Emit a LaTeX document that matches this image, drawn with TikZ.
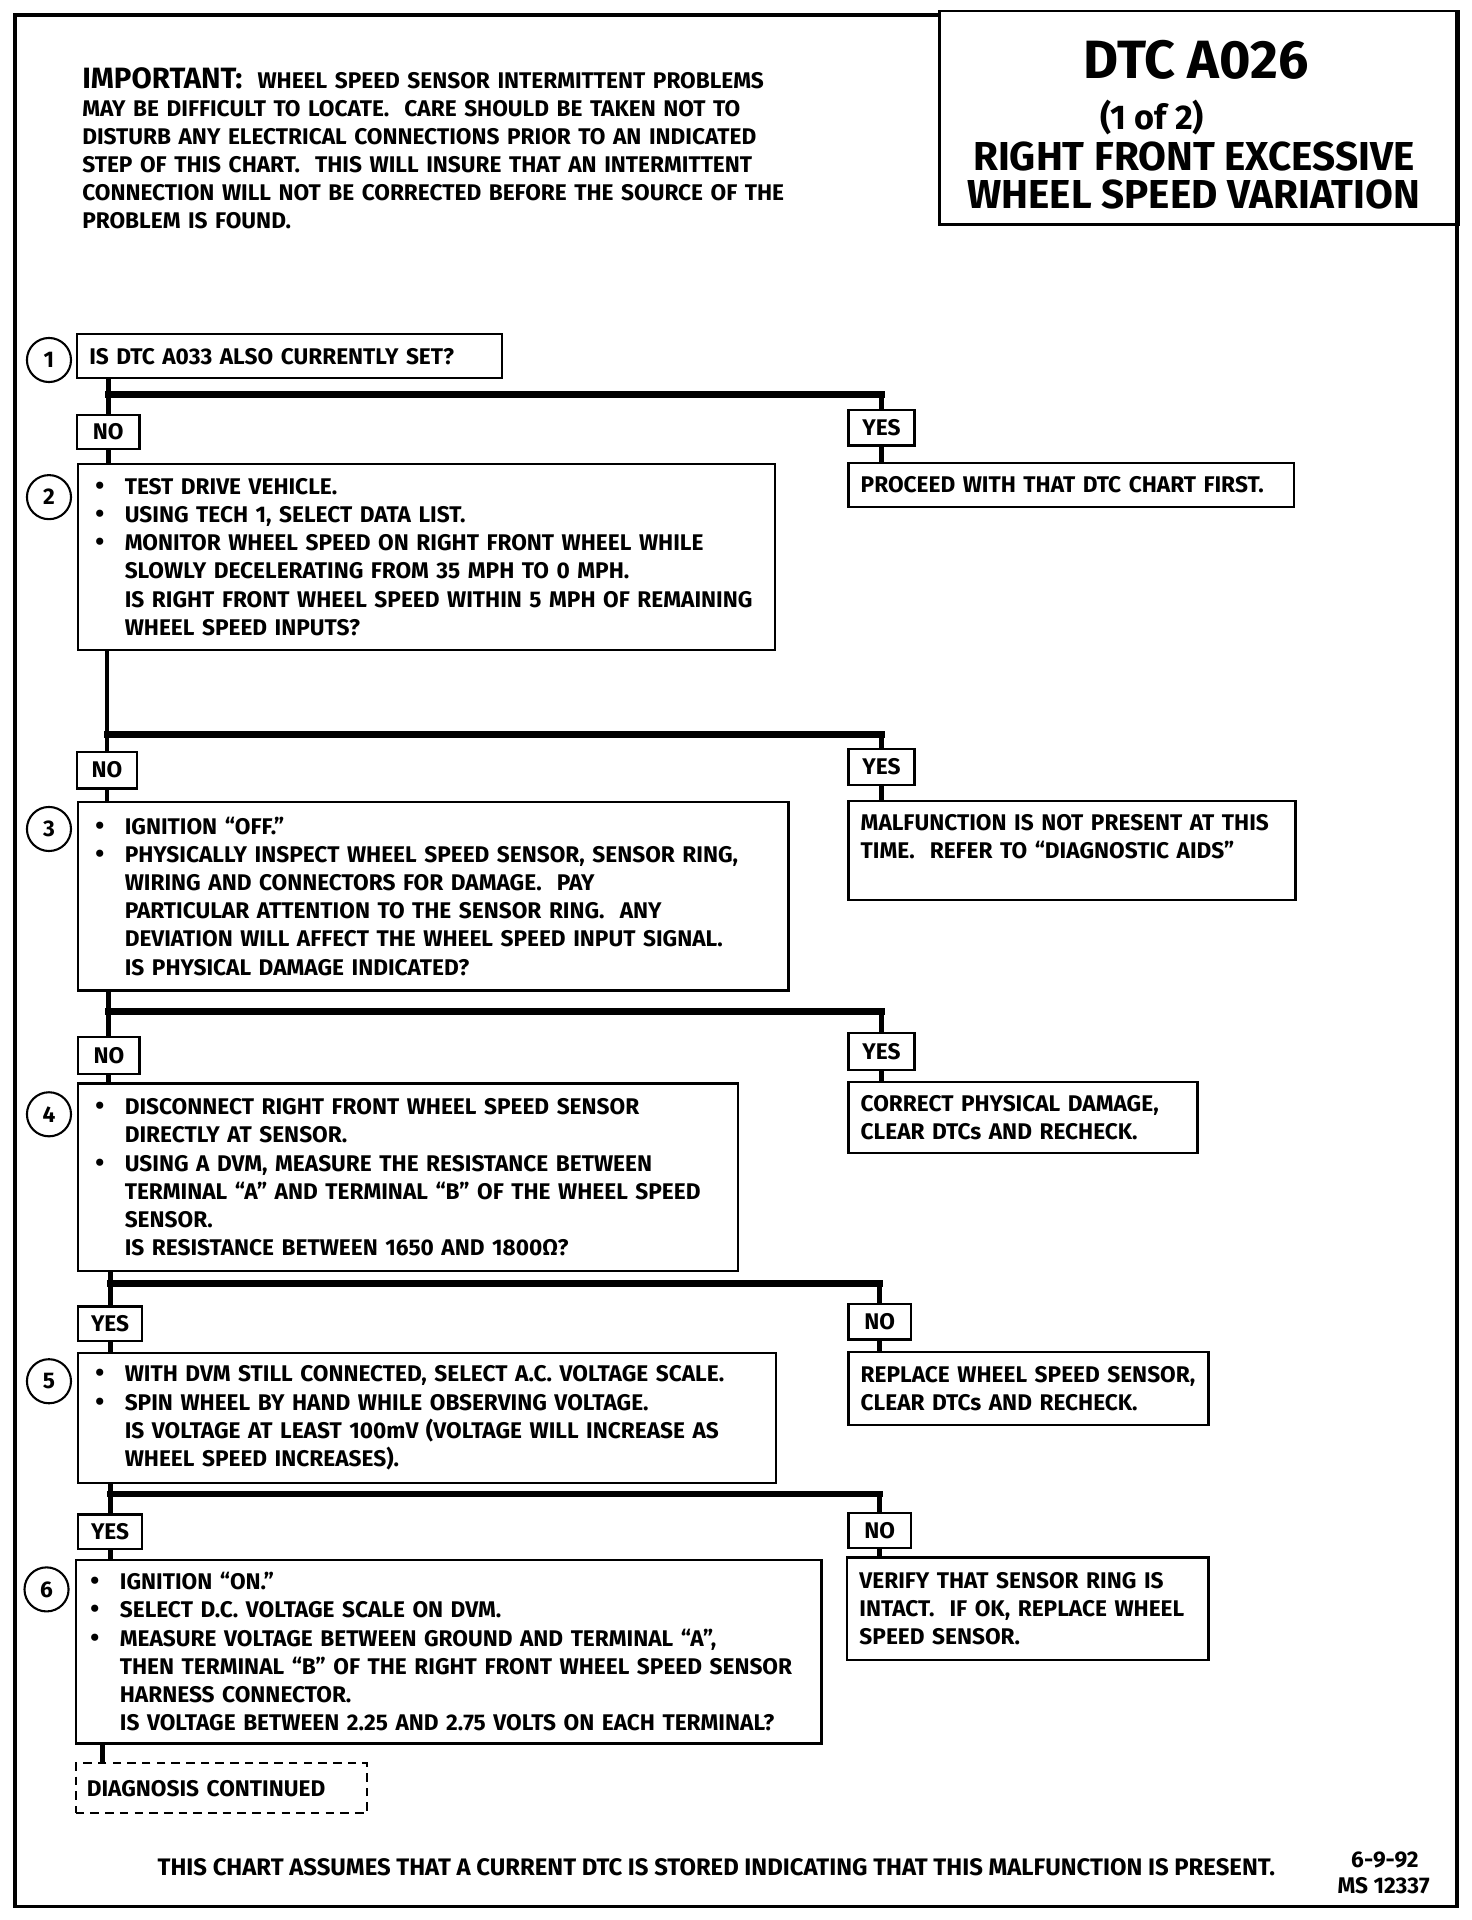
\documentclass[tikz,border=0pt]{standalone}
\usepackage{fontspec}
\setmainfont{Fira Sans}
\usetikzlibrary{shapes.geometric}
\newcommand{\bl}[1]{\makebox[24pt][l]{\fontsize{21}{23}\selectfont\textbullet}\mbox{#1}}
\newcommand{\il}[1]{\hspace*{24pt}\mbox{#1}}
\newcommand{\bodysize}{\fontsize{18.5}{23}\selectfont}
\begin{document}
\begin{tikzpicture}[x=1pt,y=-1pt,
  every node/.style={font=\bfseries\bodysize},
  box/.style={draw, line width=1.8pt, anchor=north west, align=left, inner xsep=14pt, inner ysep=0pt},
  lbl/.style={draw, line width=1.8pt, anchor=north west, inner sep=0pt, align=center},
  res/.style={draw, line width=1.8pt, anchor=north west, align=left, inner xsep=10pt, inner ysep=0pt},
  num/.style={draw, circle, line width=1.7pt, minimum size=36pt, inner sep=0pt},
  conn/.style={line width=4pt},
  bar/.style={line width=5.5pt, line cap=rect},
  frame/.style={line width=3pt},
]
\useasboundingbox (0,0) rectangle (1202,1568);
% outer frame and title box
\draw[frame] (766,12) -- (12,12) -- (12,1557) -- (1190,1557) -- (1190,8);
\node[draw, line width=2.2pt, anchor=north west, minimum width=424pt, minimum height=174pt, inner sep=0pt] (tbox) at (766,8) {};
\node[anchor=base, font=\bfseries\fontsize{44}{44}\selectfont] (tA) at (977,64) {DTC A026};
\node[anchor=base, font=\bfseries\fontsize{28}{28}\selectfont] (tB) at (941,106) {(1 of 2)};
\node[anchor=base, font=\bfseries\fontsize{33}{33}\selectfont] (tC) at (975,139) {RIGHT FRONT EXCESSIVE};
\node[anchor=base, font=\bfseries\fontsize{33}{33}\selectfont] (tD) at (975,170) {WHEEL SPEED VARIATION};
% important note
\node[anchor=base west, inner sep=0pt, align=left, text width=620pt] (imp) at (67,72) {%
\mbox{{\fontsize{24}{23}\selectfont IMPORTANT:}\ \ WHEEL SPEED SENSOR INTERMITTENT PROBLEMS}\\
\mbox{MAY BE DIFFICULT TO LOCATE.\ \ CARE SHOULD BE TAKEN NOT TO}\\
\mbox{DISTURB ANY ELECTRICAL CONNECTIONS PRIOR TO AN INDICATED}\\
\mbox{STEP OF THIS CHART.\ \ THIS WILL INSURE THAT AN INTERMITTENT}\\
\mbox{CONNECTION WILL NOT BE CORRECTED BEFORE THE SOURCE OF THE}\\
\mbox{PROBLEM IS FOUND.}};
% step numbers
\node[num] (c1) at (40,294) {1};
\node[num] (c2) at (40,406) {2};
\node[num] (c3) at (40,677) {3};
\node[num] (c4) at (40,910) {4};
\node[num] (c5) at (40,1128) {5};
\node[num] (c6) at (38,1298) {6};
% step boxes
\node[box, inner xsep=10pt, text width=327pt, minimum height=36pt] (s1) at (62,272) {IS DTC A033 ALSO CURRENTLY SET?};
\node[box, text width=541pt, minimum height=152pt] (s2) at (63,378) {%
\bl{TEST DRIVE VEHICLE.}\\
\bl{USING TECH 1, SELECT DATA LIST.}\\
\bl{MONITOR WHEEL SPEED ON RIGHT FRONT WHEEL WHILE}\\
\il{SLOWLY DECELERATING FROM 35 MPH TO 0 MPH.}\\
\il{IS RIGHT FRONT WHEEL SPEED WITHIN 5 MPH OF REMAINING}\\
\il{WHEEL SPEED INPUTS?}};
\node[box, text width=552pt, minimum height=154pt] (s3) at (63,654) {%
\bl{IGNITION “OFF.”}\\
\bl{PHYSICALLY INSPECT WHEEL SPEED SENSOR, SENSOR RING,}\\
\il{WIRING AND CONNECTORS FOR DAMAGE.\ \ PAY}\\
\il{PARTICULAR ATTENTION TO THE SENSOR RING.\ \ ANY}\\
\il{DEVIATION WILL AFFECT THE WHEEL SPEED INPUT SIGNAL.}\\
\il{IS PHYSICAL DAMAGE INDICATED?}};
\node[box, text width=511pt, minimum height=153pt] (s4) at (63,884) {%
\bl{DISCONNECT RIGHT FRONT WHEEL SPEED SENSOR}\\
\il{DIRECTLY AT SENSOR.}\\
\bl{USING A DVM, MEASURE THE RESISTANCE BETWEEN}\\
\il{TERMINAL “A” AND TERMINAL “B” OF THE WHEEL SPEED}\\
\il{SENSOR.}\\
\il{IS RESISTANCE BETWEEN 1650 AND 1800Ω?}};
\node[box, text width=542pt, minimum height=106pt] (s5) at (63,1104) {%
\bl{WITH DVM STILL CONNECTED, SELECT A.C. VOLTAGE SCALE.}\\
\bl{SPIN WHEEL BY HAND WHILE OBSERVING VOLTAGE.}\\
\il{IS VOLTAGE AT LEAST 100mV (VOLTAGE WILL INCREASE AS}\\
\il{WHEEL SPEED INCREASES).}};
\node[box, inner xsep=12pt, text width=585pt, minimum height=150pt] (s6) at (61,1273) {%
\bl{IGNITION “ON.”}\\
\bl{SELECT D.C. VOLTAGE SCALE ON DVM.}\\
\bl{MEASURE VOLTAGE BETWEEN GROUND AND TERMINAL “A”,}\\
\il{THEN TERMINAL “B” OF THE RIGHT FRONT WHEEL SPEED SENSOR}\\
\il{HARNESS CONNECTOR.}\\
\il{IS VOLTAGE BETWEEN 2.25 AND 2.75 VOLTS ON EACH TERMINAL?}};
\node[draw, dashed, dash pattern=on 7pt off 5pt, line width=1.8pt, anchor=north west, align=left, inner xsep=9pt, inner ysep=0pt, text width=220pt, minimum height=41pt] (dc) at (61,1439) {DIAGNOSIS CONTINUED};
% result boxes
\node[res, text width=344pt, minimum height=36pt] (r1) at (692,377) {\mbox{PROCEED WITH THAT DTC CHART FIRST.}};
\node[res, text width=345pt, minimum height=81pt] (r2) at (692,653) {\mbox{MALFUNCTION IS NOT PRESENT AT THIS}\\\mbox{TIME.\ \ REFER TO “DIAGNOSTIC AIDS”}\\\mbox{}};
\node[res, text width=265pt, minimum height=58pt] (r3) at (692,883) {\mbox{CORRECT PHYSICAL DAMAGE,}\\\mbox{CLEAR DTCs AND RECHECK.}};
\node[res, text width=274pt, minimum height=60pt] (r4) at (692,1103) {\mbox{REPLACE WHEEL SPEED SENSOR,}\\\mbox{CLEAR DTCs AND RECHECK.}};
\node[res, text width=275pt, minimum height=84pt] (r5) at (691,1271) {\mbox{VERIFY THAT SENSOR RING IS}\\\mbox{INTACT.\ \ IF OK, REPLACE WHEEL}\\\mbox{SPEED SENSOR.}};
% answer labels
\node[lbl, minimum width=51pt, minimum height=28pt] (n1) at (62,338) {NO};
\node[lbl, minimum width=54pt, minimum height=29pt] (y1) at (692,334) {YES};
\node[lbl, minimum width=49pt, minimum height=30pt] (n2) at (62,613) {NO};
\node[lbl, minimum width=54pt, minimum height=29pt] (y2) at (692,611) {YES};
\node[lbl, minimum width=50pt, minimum height=30pt] (n3) at (63,846) {NO};
\node[lbl, minimum width=54pt, minimum height=30pt] (y3) at (692,843) {YES};
\node[lbl, minimum width=52pt, minimum height=28pt] (y4) at (63,1066) {YES};
\node[lbl, minimum width=51pt, minimum height=29pt] (n4) at (692,1064) {NO};
\node[lbl, minimum width=52pt, minimum height=28pt] (y5) at (63,1236) {YES};
\node[lbl, minimum width=51pt, minimum height=28pt] (n5) at (692,1235) {NO};
% branch levels
\coordinate (b1) at (0,322);
\coordinate (b2) at (0,600);
\coordinate (b3) at (0,826);
\coordinate (b4) at (0,1048);
\coordinate (b5) at (0,1220);
\coordinate (d6) at (84,1423);
% connectors step 1
\draw[conn] (n1.north |- s1.south) -- (n1.north);
\draw[bar] (n1.north |- b1) -- (y1.north |- b1);
\draw[conn] (y1.north |- b1) -- (y1.north);
\draw[conn] (n1.south) -- (n1.south |- s2.north);
\draw[conn] (y1.south) -- (y1.south |- r1.north);
% step 2
\draw[conn] (n2.north |- s2.south) -- (n2.north);
\draw[bar] (n2.north |- b2) -- (y2.north |- b2);
\draw[conn] (y2.north |- b2) -- (y2.north);
\draw[conn] (n2.south) -- (n2.south |- s3.north);
\draw[conn] (y2.south) -- (y2.south |- r2.north);
% step 3
\draw[conn] (n3.north |- s3.south) -- (n3.north);
\draw[bar] (n3.north |- b3) -- (y3.north |- b3);
\draw[conn] (y3.north |- b3) -- (y3.north);
\draw[conn] (n3.south) -- (n3.south |- s4.north);
\draw[conn] (y3.south) -- (y3.south |- r3.north);
% step 4
\draw[conn] (y4.north |- s4.south) -- (y4.north);
\draw[bar] (y4.north |- b4) -- (n4.north |- b4);
\draw[conn] (n4.north |- b4) -- (n4.north);
\draw[conn] (y4.south) -- (y4.south |- s5.north);
\draw[conn] (n4.south) -- (n4.south |- r4.north);
% step 5
\draw[conn] (y5.north |- s5.south) -- (y5.north);
\draw[bar] (y5.north |- b5) -- (n5.north |- b5);
\draw[conn] (n5.north |- b5) -- (n5.north);
\draw[conn] (y5.south) -- (y5.south |- s6.north);
\draw[conn] (n5.south) -- (n5.south |- r5.north);
% step 6
\draw[conn] (d6) -- (d6 |- dc.north);
% footer
\node[anchor=base, font=\bfseries\fontsize{19.5}{23}\selectfont] (foot) at (585,1532) {THIS CHART ASSUMES THAT A CURRENT DTC IS STORED INDICATING THAT THIS MALFUNCTION IS PRESENT.};
\node[anchor=base] (date) at (1131,1525) {6-9-92};
\node[anchor=base] (ms) at (1130,1546) {MS 12337};
\end{tikzpicture}
\end{document}
